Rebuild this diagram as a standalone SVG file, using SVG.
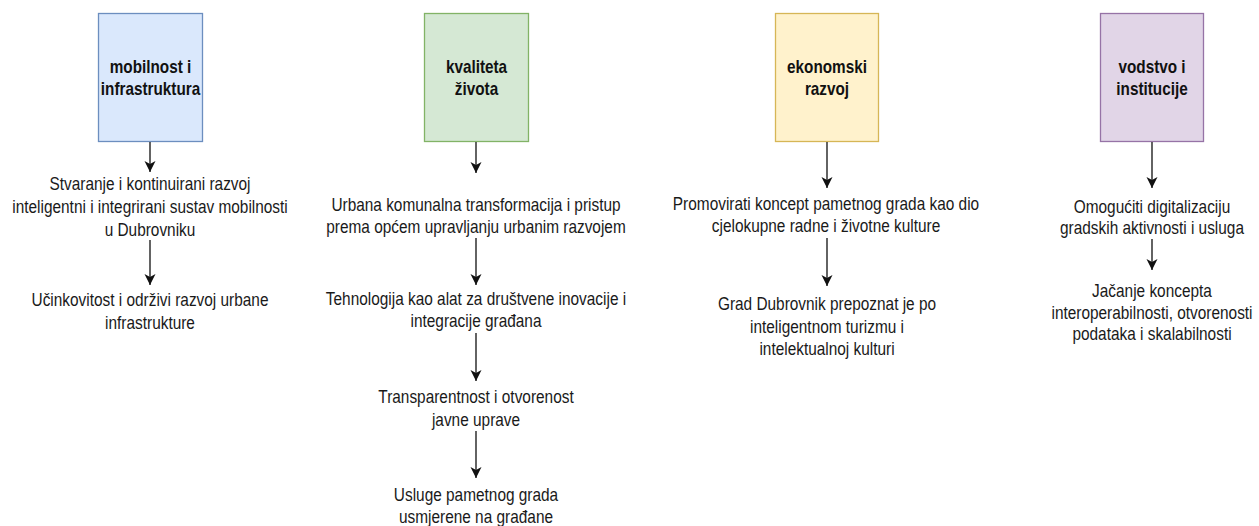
<svg xmlns="http://www.w3.org/2000/svg" width="1259" height="526" viewBox="0 0 1259 526">
<style>
.t{font-family:"Liberation Sans",Arial,sans-serif;font-size:15.4px;fill:#1a1a1a;text-anchor:middle}
.h{font-family:"Liberation Sans",Arial,sans-serif;font-size:15.3px;font-weight:bold;fill:#111;text-anchor:middle}
.c{stroke:#222;stroke-width:1.4;fill:none}
</style>
<defs>
<marker id="ah" viewBox="0 0 12 12" refX="11" refY="6" markerWidth="12" markerHeight="12" markerUnits="userSpaceOnUse" orient="auto">
<path d="M0,0.5 L11,6 L0,11.5 L3,6 Z" fill="#111"/>
</marker>
</defs>
<rect width="1259" height="526" fill="#fff"/>
<g id="n1">
<rect x="98.5" y="13.5" width="104" height="128" fill="#dae8fc" stroke="#6c8ebf" stroke-width="1.3"/>
<text class="h" transform="translate(150.5 73) scale(1 1.17)"><tspan x="0" y="0">mobilnost i</tspan><tspan x="0" dy="18.8">infrastruktura</tspan></text>
</g>
<g id="n1a"><text class="t" transform="translate(150 190) scale(1 1.17)"><tspan x="0" y="0">Stvaranje i kontinuirani razvoj</tspan><tspan x="0" dy="19.6">inteligentni i integrirani sustav mobilnosti</tspan><tspan x="0" dy="19.6">u Dubrovniku</tspan></text></g>
<g id="n1b"><text class="t" transform="translate(150 306) scale(1 1.17)"><tspan x="0" y="0">Učinkovitost i održivi razvoj urbane</tspan><tspan x="0" dy="19.6">infrastrukture</tspan></text></g>
<g id="n2">
<rect x="424.5" y="13.5" width="104" height="128" fill="#d5e8d4" stroke="#82b366" stroke-width="1.3"/>
<text class="h" transform="translate(476.5 73) scale(1 1.17)"><tspan x="0" y="0">kvaliteta</tspan><tspan x="0" dy="18.8">života</tspan></text>
</g>
<g id="n2a"><text class="t" transform="translate(476 211) scale(1 1.17)"><tspan x="0" y="0">Urbana komunalna transformacija i pristup</tspan><tspan x="0" dy="19">prema općem upravljanju urbanim razvojem</tspan></text></g>
<g id="n2b"><text class="t" transform="translate(476 305) scale(1 1.17)"><tspan x="0" y="0">Tehnologija kao alat za društvene inovacije i</tspan><tspan x="0" dy="19">integracije građana</tspan></text></g>
<g id="n2c"><text class="t" transform="translate(476 403) scale(1 1.17)"><tspan x="0" y="0">Transparentnost i otvorenost</tspan><tspan x="0" dy="19.4">javne uprave</tspan></text></g>
<g id="n2d"><text class="t" transform="translate(476 501) scale(1 1.17)"><tspan x="0" y="0">Usluge pametnog grada</tspan><tspan x="0" dy="19">usmjerene na građane</tspan></text></g>
<g id="n3">
<rect x="775.5" y="13.5" width="103" height="128" fill="#fff2cc" stroke="#d6b656" stroke-width="1.3"/>
<text class="h" transform="translate(827 73) scale(1 1.17)"><tspan x="0" y="0">ekonomski</tspan><tspan x="0" dy="18.8">razvoj</tspan></text>
</g>
<g id="n3a"><text class="t" transform="translate(826 210) scale(1 1.17)"><tspan x="0" y="0">Promovirati koncept pametnog grada kao dio</tspan><tspan x="0" dy="19">cjelokupne radne i životne kulture</tspan></text></g>
<g id="n3b"><text class="t" transform="translate(827 310) scale(1 1.17)"><tspan x="0" y="0">Grad Dubrovnik prepoznat je po</tspan><tspan x="0" dy="19.4">inteligentnom turizmu i</tspan><tspan x="0" dy="19.4">intelektualnoj kulturi</tspan></text></g>
<g id="n4">
<rect x="1100.5" y="13.5" width="103" height="128" fill="#e1d5e7" stroke="#9673a6" stroke-width="1.3"/>
<text class="h" transform="translate(1152 73) scale(1 1.17)"><tspan x="0" y="0">vodstvo i</tspan><tspan x="0" dy="18.8">institucije</tspan></text>
</g>
<g id="n4a"><text class="t" transform="translate(1152 213) scale(1 1.17)"><tspan x="0" y="0">Omogućiti digitalizaciju</tspan><tspan x="0" dy="18.2">gradskih aktivnosti i usluga</tspan></text></g>
<g id="n4b"><text class="t" transform="translate(1152 297) scale(1 1.17)"><tspan x="0" y="0">Jačanje koncepta</tspan><tspan x="0" dy="18.4">interoperabilnosti, otvorenosti</tspan><tspan x="0" dy="18.4">podataka i skalabilnosti</tspan></text></g>
<g id="connectors">
<line class="c" x1="150" y1="142" x2="150" y2="172" marker-end="url(#ah)"/>
<line class="c" x1="150" y1="240" x2="150" y2="285" marker-end="url(#ah)"/>
<line class="c" x1="476" y1="142" x2="476" y2="173" marker-end="url(#ah)"/>
<line class="c" x1="476" y1="238" x2="476" y2="285" marker-end="url(#ah)"/>
<line class="c" x1="476" y1="333" x2="476" y2="381" marker-end="url(#ah)"/>
<line class="c" x1="476" y1="431" x2="476" y2="478" marker-end="url(#ah)"/>
<line class="c" x1="827" y1="142" x2="827" y2="188" marker-end="url(#ah)"/>
<line class="c" x1="827" y1="238" x2="827" y2="286" marker-end="url(#ah)"/>
<line class="c" x1="1152" y1="142" x2="1152" y2="188" marker-end="url(#ah)"/>
<line class="c" x1="1152" y1="239" x2="1152" y2="270" marker-end="url(#ah)"/>
</g>
</svg>
